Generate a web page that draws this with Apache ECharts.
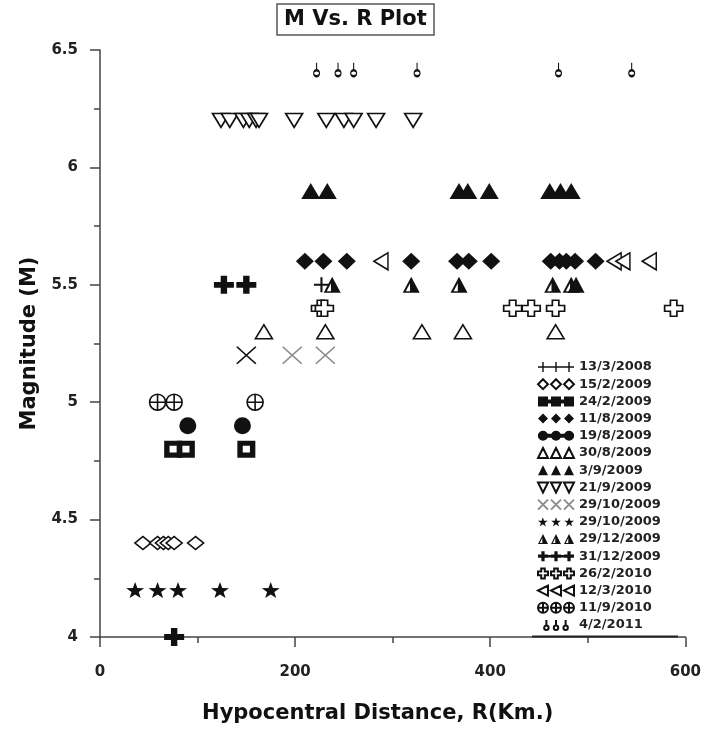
<!DOCTYPE html>
<html>
<head>
<meta charset="utf-8">
<script src="https://cdn.jsdelivr.net/npm/echarts@6/dist/echarts.min.js"></script>
<style>
  html, body { margin: 0; padding: 0; background: #ffffff; }
  #chart { width: 704px; height: 729px; }
</style>
</head>
<body>
<div id="chart"></div>
<script>
// Legend labels: the event date of each group of readings
const eventDates = [
  '13/3/2008', '15/2/2009', '24/2/2009', '11/8/2009', '19/8/2009', '30/8/2009',
  '3/9/2009', '21/9/2009', '29/10/2009', '29/10/2009', '29/12/2009', '31/12/2009',
  '26/2/2010', '12/3/2010', '11/9/2010', '4/2/2011'
];

// Readings per event: [hypocentral distance R (km), magnitude M]
const ev13_3_2008 = [[227, 5.5]];
const ev15_2_2009 = [[44, 4.4], [59, 4.4], [65, 4.4], [70, 4.4], [76, 4.4], [98, 4.4]];
const ev24_2_2009 = [[75, 4.8], [88, 4.8], [150, 4.8]];
const ev11_8_2009 = [[210, 5.6], [229, 5.6], [253, 5.6], [319, 5.6], [366, 5.6], [378, 5.6],
                     [401, 5.6], [462, 5.6], [471, 5.6], [478, 5.6], [487, 5.6], [508, 5.6]];
const ev19_8_2009 = [[90, 4.9], [146, 4.9]];
const ev30_8_2009 = [[168, 5.3], [231, 5.3], [330, 5.3], [372, 5.3], [467, 5.3]];
const ev3_9_2009  = [[216, 5.9], [233, 5.9], [368, 5.9], [377, 5.9], [399, 5.9],
                     [461, 5.9], [472, 5.9], [483, 5.9]];
const ev21_9_2009 = [[124, 6.2], [133, 6.2], [147, 6.2], [153, 6.2], [160, 6.2], [163, 6.2],
                     [199, 6.2], [232, 6.2], [250, 6.2], [260, 6.2], [283, 6.2], [321, 6.2]];
const ev29_10_2009a = [[150, 5.2], [197, 5.2], [231, 5.2]];
const ev29_10_2009b = [[36, 4.2], [59, 4.2], [80, 4.2], [123, 4.2], [175, 4.2]];
const ev29_12_2009 = [[238, 5.5], [319, 5.5], [368, 5.5], [464, 5.5], [483, 5.5], [488, 5.5]];
const ev31_12_2009 = [[76, 4.0], [127, 5.5], [150, 5.5]];
const ev26_2_2010 = [[226, 5.4], [230, 5.4], [423, 5.4], [442, 5.4], [467, 5.4], [588, 5.4]];
const ev12_3_2010 = [[288, 5.6], [527, 5.6], [536, 5.6], [563, 5.6]];
const ev11_9_2010 = [[59, 5.0], [76, 5.0], [159, 5.0]];
const ev4_2_2011  = [[222, 6.4], [244, 6.4], [260, 6.4], [325, 6.4], [470, 6.4], [545, 6.4]];

// Axis tick values
const xTickValues = [0, 200, 400, 600];
const yTickValues = [4, 4.5, 5, 5.5, 6, 6.5];

// ---- marker shapes (drawn in a 10-unit box, shifted by dx) ----
function poly(pts, dx) {
  return 'M' + pts.map(p => (p[0] + dx) + ',' + p[1]).join('L') + 'Z';
}
function plusPts(a, b) {
  return [[a, 0], [b, 0], [b, a], [10, a], [10, b], [b, b], [b, 10], [a, 10], [a, b], [0, b], [0, a], [a, a]];
}
const STAR = [[5, 0], [6.18, 3.38], [9.76, 3.45], [6.9, 5.62], [7.94, 9.05], [5, 7],
              [2.06, 9.05], [3.1, 5.62], [0.24, 3.45], [3.82, 3.38]];
const SHAPES = {
  thinPlus:  dx => poly(plusPts(4.3, 5.7), dx),
  thickPlus: dx => poly(plusPts(3.4, 6.6), dx),
  openCross: dx => poly(plusPts(3.2, 6.8), dx),
  diamond:   dx => poly([[5, 0], [10, 5], [5, 10], [0, 5]], dx),
  boxed:     dx => poly([[0, 0], [10, 0], [10, 10], [0, 10]], dx) + poly([[3, 3], [3, 7], [7, 7], [7, 3]], dx),
  dot:       dx => `M${dx},5A5,5 0 1,1 ${dx + 10},5A5,5 0 1,1 ${dx},5Z`,
  triUp:     dx => poly([[5, 0], [10, 10], [0, 10]], dx),
  triDown:   dx => poly([[0, 0], [10, 0], [5, 10]], dx),
  triLeft:   dx => poly([[10, 0], [10, 10], [0, 5]], dx),
  halfTri:   dx => poly([[5, 0], [10, 10], [0, 10]], dx) + poly([[4.3, 4.1], [1.8, 9], [4.3, 9]], dx),
  cross:     dx => `M${dx},0L${dx + 10},10M${dx + 10},0L${dx},10`,
  star:      dx => poly(STAR, dx),
  circlePlus: dx => `M${dx},5A5,5 0 1,1 ${dx + 10},5A5,5 0 1,1 ${dx},5Z` +
                    `M${dx + 5},0L${dx + 5},10M${dx},5L${dx + 10},5`,
  pin:       dx => `M${dx + 5},0L${dx + 5},7.6M${dx + 2},10.5A3,3 0 1,1 ${dx + 8},10.5` +
                    `A3,3 0 1,1 ${dx + 2},10.5Z`
};

const INK = '#111111';
const SOLID = { color: INK, borderWidth: 0 };
const OPEN = { color: '#ffffff', borderColor: INK, borderWidth: 1.6 };
const GREY = { color: '#8c8c8c', borderColor: '#8c8c8c', borderWidth: 1.6 };

// One entry per event: marker shape, size and fill style
const markerDefs = [
  { data: ev13_3_2008,   shape: 'thinPlus',   size: [15, 15], style: SOLID, bar: [4.3, 5.7] },
  { data: ev15_2_2009,   shape: 'diamond',    size: [16, 13], style: OPEN },
  { data: ev24_2_2009,   shape: 'boxed',      size: [18, 17], style: SOLID, bar: [3, 7] },
  { data: ev11_8_2009,   shape: 'diamond',    size: [18, 17], style: SOLID },
  { data: ev19_8_2009,   shape: 'dot',        size: [17, 17], style: SOLID, bar: [3, 7] },
  { data: ev30_8_2009,   shape: 'triUp',      size: [17, 14], style: OPEN },
  { data: ev3_9_2009,    shape: 'triUp',      size: [19, 16], style: SOLID },
  { data: ev21_9_2009,   shape: 'triDown',    size: [17, 14], style: OPEN },
  { data: ev29_10_2009a, shape: 'cross',      size: [19, 17], style: GREY },
  { data: ev29_10_2009b, shape: 'star',       size: [18, 16], style: SOLID },
  { data: ev29_12_2009,  shape: 'halfTri',    size: [17, 16], style: SOLID },
  { data: ev31_12_2009,  shape: 'thickPlus',  size: [20, 18], style: SOLID, bar: [3.8, 6.2] },
  { data: ev26_2_2010,   shape: 'openCross',  size: [18, 16], style: OPEN },
  { data: ev12_3_2010,   shape: 'triLeft',    size: [14, 17], style: OPEN },
  { data: ev11_9_2010,   shape: 'circlePlus', size: [16, 16], style: OPEN },
  { data: ev4_2_2011,    shape: 'pin',        size: [6, 13.5], style: OPEN, offset: [0, -4] }
];

const FONT = 'DejaVu Sans';
const series = [];
const legendData = [];

markerDefs.forEach((def, i) => {
  const key = eventDates[i] + '#' + i;
  const shapeFn = SHAPES[def.shape];
  let icon = 'path://' + [0, 13, 26].map(shapeFn).join('');
  if (def.bar) {
    icon += poly([[0, def.bar[0]], [36, def.bar[0]], [36, def.bar[1]], [0, def.bar[1]]], 0);
  }
  legendData.push({ name: key, icon: icon });
  let data = def.data;
  if (def.shape === 'cross') {
    // the nearest reading of this group is drawn in black
    data = def.data.map((p, k) => k === 0 ? { value: p, itemStyle: { color: INK, borderColor: INK } } : p);
  }
  series.push({
    type: 'scatter',
    name: key,
    data: data,
    symbol: 'path://' + shapeFn(0),
    symbolSize: def.size,
    symbolOffset: def.offset || [0, 0],
    itemStyle: Object.assign({ opacity: 1 }, def.style),
    emphasis: { disabled: true },
    z: 2 + i
  });
});

const chart = echarts.init(document.getElementById('chart'), null, { renderer: 'canvas' });

const axisLine = { show: true, lineStyle: { color: '#444444', width: 1.5 } };

chart.setOption({
  animation: false,
  backgroundColor: '#ffffff',
  title: {
    text: 'M Vs. R Plot',
    left: 277,
    top: 4,
    padding: [5, 7, 5, 7],
    borderColor: '#555555',
    borderWidth: 1.5,
    textStyle: { fontFamily: FONT, fontWeight: 'bold', fontSize: 21, color: INK }
  },
  grid: { left: 100, right: 16, top: 50, bottom: 91.5 },
  legend: {
    orient: 'vertical',
    left: 537,
    top: 360,
    padding: 0,
    itemWidth: 36,
    itemHeight: 10,
    itemGap: 3.2,
    selectedMode: false,
    data: legendData,
    formatter: name => name.split('#')[0],
    textStyle: { fontFamily: FONT, fontWeight: 'bold', fontSize: 13, lineHeight: 14, color: '#222222' }
  },
  // bottom edge of the legend frame, lying on the x axis
  graphic: [{
    type: 'line',
    shape: { x1: 532, y1: 636.5, x2: 678, y2: 636.5 },
    style: { stroke: '#222222', lineWidth: 2 },
    z: 10
  }],
  xAxis: {
    type: 'value',
    min: xTickValues[0],
    max: xTickValues[xTickValues.length - 1],
    interval: xTickValues[1] - xTickValues[0],
    name: 'Hypocentral Distance, R(Km.)',
    nameLocation: 'middle',
    nameGap: 66,
    nameTextStyle: { fontFamily: FONT, fontWeight: 'bold', fontSize: 21, color: INK, padding: [0, 30, 0, 0] },
    axisLine: axisLine,
    axisTick: { show: true, inside: false, length: 10, lineStyle: { color: '#444444', width: 1.5 } },
    minorTick: { show: true, splitNumber: 2, length: 6, lineStyle: { color: '#444444', width: 1.5 } },
    splitLine: { show: false },
    minorSplitLine: { show: false },
    axisLabel: { margin: 28, fontFamily: FONT, fontWeight: 'bold', fontSize: 15, color: '#222222' }
  },
  yAxis: {
    type: 'value',
    min: yTickValues[0],
    max: yTickValues[yTickValues.length - 1],
    interval: yTickValues[1] - yTickValues[0],
    name: 'Magnitude (M)',
    nameLocation: 'middle',
    nameGap: 60,
    nameTextStyle: { fontFamily: FONT, fontWeight: 'bold', fontSize: 21, color: INK },
    axisLine: axisLine,
    axisTick: { show: true, inside: false, length: 10, lineStyle: { color: '#444444', width: 1.5 } },
    minorTick: { show: true, splitNumber: 2, length: 6, lineStyle: { color: '#444444', width: 1.5 } },
    splitLine: { show: false },
    minorSplitLine: { show: false },
    axisLabel: { margin: 22, fontFamily: FONT, fontWeight: 'bold', fontSize: 15, color: '#222222' }
  },
  series: series
});
</script>
</body>
</html>
